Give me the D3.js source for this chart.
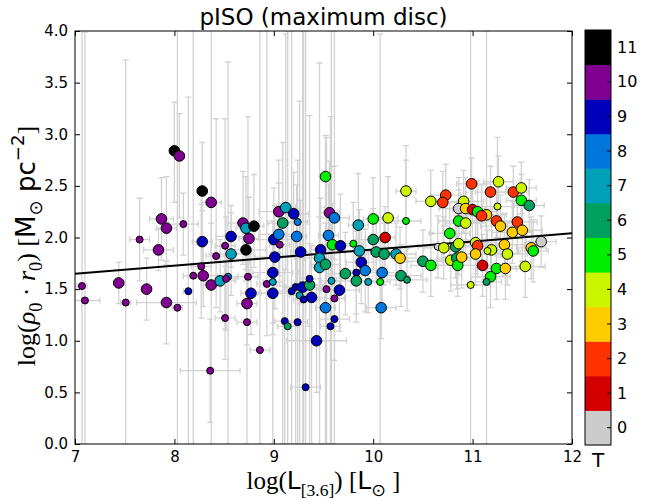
<!DOCTYPE html>
<html>
<head>
<meta charset="utf-8">
<script src="https://cdn.jsdelivr.net/npm/d3@7"></script>
<style>
  body { margin: 0; background: #fff; }
  text { fill: #000; }
</style>
</head>
<body>
<svg id="chart" width="660" height="500"></svg>
<script>
// galaxies: log luminosity, log(rho0*r0), Hubble type T, marker size flag, error bars
var logL = [
  8.00, 8.05, 8.28, 8.37, 7.87, 7.92, 8.09, 7.65, 8.28, 8.57,
  8.51, 7.84, 8.42, 8.57, 8.27, 8.19, 8.29, 8.37, 8.46, 8.54,
  8.52, 7.07, 7.44, 7.72, 7.10, 7.51, 7.92, 8.03, 8.14, 8.51,
  9.52, 9.05, 9.12, 9.20, 9.09, 9.24, 9.56, 9.61, 8.69, 8.72,
  8.80, 8.75, 8.72, 9.00, 9.05, 9.06, 9.23, 9.27, 9.01, 9.55,
  9.59, 9.67, 9.47, 9.46, 9.46, 9.52, 9.85, 10.00, 10.15, 10.00,
  10.12, 9.80, 9.86, 10.03, 10.11, 10.23, 9.88, 9.92, 9.72, 9.83,
  9.83, 9.95, 10.07, 10.09, 10.28, 8.99, 8.74, 8.93, 8.99, 8.99,
  8.77, 8.73, 9.18, 9.22, 9.29, 9.36, 9.36, 9.26, 9.30, 9.38,
  9.58, 9.53, 9.66, 9.61, 9.52, 10.08, 9.61, 8.73, 9.11, 9.14,
  9.24, 9.57, 8.86, 8.36, 9.32, 9.43, 10.33, 10.33, 10.58, 10.73,
  10.70, 10.99, 11.26, 11.18, 11.41, 11.49, 11.49, 11.57, 10.91, 10.86,
  10.93, 11.00, 11.05, 11.14, 11.09, 11.25, 10.86, 10.93, 11.24, 11.28,
  11.45, 11.40, 11.50, 10.77, 11.69, 10.65, 10.27, 10.71, 10.83, 10.86,
  11.03, 11.05, 11.03, 11.19, 11.15, 11.32, 11.35, 11.59, 11.61, 10.78,
  10.84, 10.85, 10.89, 11.10, 11.24, 11.33, 11.53, 10.50, 10.58, 10.34,
  11.18, 11.14, 10.98
];
var logRho = [
  2.84, 2.79, 2.45, 2.34, 2.18, 2.09, 2.13, 1.98, 1.96, 2.01,
  1.92, 1.88, 1.82, 1.84, 1.72, 1.63, 1.63, 1.54, 1.58, 1.62,
  1.60, 1.53, 1.56, 1.50, 1.39, 1.37, 1.37, 1.32, 1.48, 1.22,
  2.59, 2.25, 2.29, 2.23, 2.14, 2.15, 2.24, 2.19, 2.14, 2.09,
  2.11, 1.99, 1.88, 1.98, 2.03, 1.93, 2.01, 1.86, 1.81, 2.02,
  1.93, 1.92, 1.88, 1.80, 1.71, 1.74, 2.12, 2.18, 2.19, 1.98,
  2.00, 1.94, 1.87, 1.86, 1.84, 1.84, 1.76, 1.68, 1.65, 1.66,
  1.58, 1.57, 1.57, 1.66, 1.63, 1.66, 1.62, 1.55, 1.57, 1.46,
  1.46, 1.36, 1.48, 1.52, 1.52, 1.54, 1.60, 1.44, 1.40, 1.42,
  1.58, 1.50, 1.49, 1.41, 1.32, 1.32, 1.21, 1.18, 1.19, 1.14,
  1.18, 1.14, 0.91, 0.71, 0.55, 1.00, 2.45, 2.16, 2.35, 2.41,
  2.34, 2.52, 2.54, 2.44, 2.44, 2.48, 2.36, 2.31, 2.35, 2.28,
  2.28, 2.27, 2.25, 2.22, 2.21, 2.30, 2.16, 2.14, 2.16, 2.11,
  2.15, 2.05, 2.07, 2.04, 1.96, 1.91, 1.80, 1.90, 1.91, 1.94,
  1.95, 1.92, 1.84, 1.88, 1.87, 1.93, 1.84, 1.90, 1.87, 1.78,
  1.80, 1.73, 1.81, 1.73, 1.70, 1.70, 1.72, 1.77, 1.73, 1.59,
  1.62, 1.57, 1.54
];
var hubbleT = [
  11, 10, 11, 10, 10, 10, 10, 10, 9, 9,
  10, 10, 10, 7, 10, 10, 10, 10, 7, 8,
  10, 10, 10, 10, 10, 10, 10, 10, 9, 10,
  5, 10, 7, 9, 6, 8, 10, 8, 10, 7,
  11, 10, 11, 9, 8, 10, 8, 9, 9, 8,
  5, 9, 9, 7, 7, 6, 7, 5, 4, 6,
  1, 5, 7, 6, 6, 7, 9, 8, 6, 9,
  6, 7, 5, 8, 6, 9, 10, 10, 7, 9,
  9, 10, 9, 9, 9, 6, 9, 7, 9, 9,
  7, 10, 9, 10, 8, 8, 9, 10, 9, 6,
  9, 9, 10, 10, 9, 9, 4, 5, 4, 2,
  2, 2, 4, 2, 2, 4, 5, 6, 4, 0,
  3, 1, 5, 3, 2, 4, 5, 4, 2, 3,
  2, 3, 3, 5, 0, 0, 3, 4, 6, 4,
  4, 2, 3, 4, 4, 3, 4, 3, 5, 4,
  6, 5, 3, 1, 5, 3, 4, 6, 5, 6,
  5, 6, 4
];
var isBig = [
  1, 1, 1, 1, 1, 1, 0, 0, 1, 1,
  0, 1, 0, 1, 0, 0, 1, 1, 1, 0,
  0, 0, 1, 1, 0, 0, 1, 0, 0, 0,
  1, 1, 1, 1, 1, 0, 1, 1, 1, 1,
  1, 1, 1, 1, 1, 0, 1, 1, 1, 1,
  1, 1, 1, 1, 1, 1, 1, 1, 1, 1,
  1, 0, 1, 1, 1, 1, 1, 1, 1, 0,
  1, 0, 0, 1, 1, 1, 0, 0, 0, 1,
  1, 1, 0, 0, 1, 1, 0, 0, 0, 1,
  0, 0, 1, 0, 1, 1, 0, 0, 0, 0,
  0, 0, 0, 0, 0, 1, 1, 0, 1, 1,
  1, 1, 1, 1, 1, 1, 1, 1, 1, 1,
  1, 1, 1, 1, 1, 0, 1, 1, 1, 1,
  1, 1, 1, 1, 1, 0, 1, 1, 1, 1,
  1, 1, 1, 1, 0, 1, 1, 1, 1, 1,
  1, 1, 1, 1, 1, 1, 1, 1, 1, 0,
  1, 0, 0
];
var errL = [
  .05, .05, .05, .1, .12, .1, .15, .1, .1, .15,
  .1, .15, .1, .2, .1, .1, .2, .1, .15, .1,
  .1, .05, .05, .05, .15, .05, .3, .05, .05, .1,
  .05, .2, .1, .15, .15, .1, .1, .15, .15, .1,
  .1, .1, .2, .2, .2, .1, .1, .1, .2, .1,
  .1, .15, .1, .15, .1, .15, .1, .1, .1, .15,
  .1, .1, .15, .2, .2, .2, .15, .2, .2, .1,
  .2, .1, .1, .15, .2, .2, .1, .1, .1, .15,
  .1, .1, .15, .1, .2, .15, .1, .1, .1, .15,
  .1, .1, .2, .1, .1, .15, .15, .1, .1, .1,
  .1, .1, .1, .3, .15, .3, .1, .15, .15, .15,
  .15, .15, .15, .15, .15, .15, .15, .15, .2, .2,
  .2, .2, .2, .2, .2, .15, .2, .2, .2, .2,
  .2, .2, .2, .2, .15, .2, .2, .2, .2, .2,
  .2, .2, .2, .2, .1, .2, .2, .15, .15, .2,
  .2, .2, .2, .2, .2, .2, .2, .2, .2, .2,
  .2, .15, .2
];
var errRhoLo = [
  .5, .6, .45, .5, .4, .35, .3, .4, .3, .3,
  .8, .2, .5, .4, .5, 1.63, .3, 1.54, .3, 1.62,
  .5, 1.53, .2, .3, 1.39, 1.37, .4, 1.32, 1.48, .4,
  .3, .4, .6, .4, 2.14, .5, .4, .4, .4, .4,
  .4, .4, .3, .5, .4, .4, .5, .5, .5, .4,
  .4, .4, .4, .4, 1.71, .4, .4, .3, .3, .3,
  .3, .4, .3, .3, .3, .3, .4, .4, .4, .4,
  .4, .3, 1.57, .3, .3, 1.66, .3, .5, .4, .4,
  .4, .4, 1.48, 1.52, 1.52, .4, 1.60, 1.44, 1.40, 1.42,
  1.58, 1.50, .4, 1.41, 1.32, .3, .4, 1.18, 1.19, 1.14,
  1.18, 1.14, .91, .5, .55, .5, .3, .4, .3, .3,
  .3, .25, .25, .25, .25, .25, .25, .25, .3, .3,
  .3, .3, .3, .3, .3, .3, .3, .3, .3, .3,
  .3, .3, .3, .3, .25, .3, .3, .3, .3, .3,
  .3, .3, .3, .3, .2, .3, .3, .3, .3, .3,
  .3, .3, .3, .3, .3, .3, .3, .3, .3, .3,
  .3, 1.57, 1.54
];
var errRhoHi = [
  .47, .41, .47, 1.7, .4, .5, .3, .4, .3, .3,
  1.23, .2, 1.33, .4, .6, 2.4, .3, .6, .4, 2.08,
  .6, 2.5, .2, .3, 2.6, 2.35, .4, 2.7, 1.88, .5,
  .4, .5, 1.68, .4, .78, .6, .5, .5, .5, .5,
  .5, .4, .3, .5, .5, .4, .5, .5, .5, .5,
  .4, .5, .5, .4, 1.98, .4, .5, .4, .4, .3,
  .3, .4, .4, .3, .3, .3, .4, .4, .4, .4,
  .4, .3, 2.4, .3, .3, .5, 1.55, 2.45, .4, .4,
  .4, .4, 2.52, .5, 2.48, .4, 1.58, 1.88, 2.6, .5,
  2.42, 1.47, .4, 2.59, .4, .3, .4, .4, .5, 2.86,
  .5, 2.03, 3.09, .5, 3.45, .5, .3, .73, .3, .3,
  .3, .25, .25, .25, .25, .25, .25, .25, .3, .3,
  .3, .3, .3, .3, .3, .67, .3, .3, .3, .3,
  .3, .3, .3, .3, .25, .3, .3, .3, .3, .3,
  .3, .3, .3, .3, .2, .3, .3, .3, .3, .3,
  .3, .3, .3, .3, .3, .3, .3, .3, .3, .3,
  .3, 2.43, 2.46
];

// linear fit drawn across the panel
var fitL = [7, 12];
var fitRho = [1.65, 2.04];

var xTicks = [7, 8, 9, 10, 11, 12];
var yTicks = [0, 0.5, 1, 1.5, 2, 2.5, 3, 3.5, 4];
var tValues = [0, 1, 2, 3, 4, 5, 6, 7, 8, 9, 10, 11];
var tColors = ["#cccccc", "#d40000", "#ff3300", "#ffcc00", "#ccf500", "#00ee00",
               "#00a05e", "#00a0b8", "#0077dd", "#0000bb", "#800090", "#000000"];

var svg = d3.select("#chart");
var pL = 75, pR = 572, pT = 31, pB = 444;

var x = d3.scaleLinear().domain([7, 12]).range([pL, pR]);
var y = d3.scaleLinear().domain([0, 4]).range([pB, pT]);
var tColor = d3.scaleOrdinal().domain(tValues).range(tColors);

svg.append("defs").append("clipPath").attr("id", "plotclip")
  .append("rect").attr("x", pL).attr("y", pT)
  .attr("width", pR - pL).attr("height", pB - pT);

var plot = svg.append("g").attr("clip-path", "url(#plotclip)");

var rows = logL.map(function(l, i) {
  return { l: l, r: logRho[i], t: hubbleT[i], big: isBig[i],
           ex: errL[i], lo: errRhoLo[i], hi: errRhoHi[i] };
});

// error bars
var bars = plot.append("g").attr("stroke", "#d2d2d2").attr("stroke-width", 1.3).attr("fill", "none");
var cap = 3;
rows.forEach(function(d) {
  var cx = x(d.l), cyy = y(d.r);
  var y0 = y(d.r - d.lo), y1 = y(d.r + d.hi);
  var x0 = x(d.l - d.ex), x1 = x(d.l + d.ex);
  bars.append("path").attr("d",
    "M" + cx + "," + y0 + "V" + y1 +
    "M" + (cx - cap) + "," + y0 + "H" + (cx + cap) +
    "M" + (cx - cap) + "," + y1 + "H" + (cx + cap) +
    "M" + x0 + "," + cyy + "H" + x1 +
    "M" + x0 + "," + (cyy - cap) + "V" + (cyy + cap) +
    "M" + x1 + "," + (cyy - cap) + "V" + (cyy + cap));
});

// fit line
plot.append("line")
  .attr("x1", x(fitL[0])).attr("y1", y(fitRho[0]))
  .attr("x2", x(fitL[1])).attr("y2", y(fitRho[1]))
  .attr("stroke", "#000").attr("stroke-width", 2);

// points
plot.append("g").selectAll("circle").data(rows).enter().append("circle")
  .attr("cx", function(d) { return x(d.l); })
  .attr("cy", function(d) { return y(d.r); })
  .attr("r", function(d) { return d.big ? 5.3 : 3.5; })
  .attr("fill", function(d) { return tColor(d.t); })
  .attr("stroke", "#000").attr("stroke-width", 1);

// axes, ticks pointing inward like matplotlib classic
var tickFont = "DejaVu Sans";
function styleAxis(g) {
  g.select(".domain").remove();
  g.selectAll(".tick line").attr("stroke", "#000");
  g.selectAll(".tick text").attr("font-family", tickFont).attr("font-size", 15).attr("fill", "#000");
}
svg.append("g").attr("transform", "translate(0," + pB + ")")
  .call(d3.axisBottom(x).tickValues(xTicks).tickFormat(d3.format("d")).tickSize(-5).tickPadding(7))
  .call(styleAxis);
svg.append("g").attr("transform", "translate(0," + pT + ")")
  .call(d3.axisTop(x).tickValues(xTicks).tickFormat("").tickSize(-5))
  .call(styleAxis);
svg.append("g").attr("transform", "translate(" + pL + ",0)")
  .call(d3.axisLeft(y).tickValues(yTicks).tickFormat(d3.format(".1f")).tickSize(-5).tickPadding(7))
  .call(styleAxis);
svg.append("g").attr("transform", "translate(" + pR + ",0)")
  .call(d3.axisRight(y).tickValues(yTicks).tickFormat("").tickSize(-5))
  .call(styleAxis);

svg.append("rect").attr("x", pL).attr("y", pT)
  .attr("width", pR - pL).attr("height", pB - pT)
  .attr("fill", "none").attr("stroke", "#000").attr("stroke-width", 1);

// title
svg.append("text").attr("x", (pL + pR) / 2).attr("y", 25)
  .attr("text-anchor", "middle").attr("font-family", "DejaVu Sans").attr("font-size", 23)
  .text("pISO (maximum disc)");

// mixed-font axis labels
var serif = "Liberation Serif", sans = "DejaVu Sans";
function mathText(sel, parts, size) {
  var shift = 0;
  parts.forEach(function(p) {
    var target = p.pos === "sub" ? size * 0.28 : p.pos === "sup" ? -size * 0.42 : 0;
    var ts = sel.append("tspan").text(p.s)
      .attr("font-family", p.f)
      .attr("font-size", p.pos ? size * 0.7 : size)
      .attr("dy", target - shift);
    if (p.it) ts.attr("font-style", "italic");
    shift = target;
  });
}

var xl = svg.append("text").attr("x", (pL + pR) / 2).attr("y", 489).attr("text-anchor", "middle");
mathText(xl, [
  { s: "log(", f: serif }, { s: "L", f: sans }, { s: "[3.6]", f: serif, pos: "sub" },
  { s: ") [", f: serif }, { s: "L", f: sans }, { s: "\u2299", f: sans, pos: "sub" }, { s: " ]", f: serif }
], 25);

var yl = svg.append("text").attr("transform", "translate(35,246) rotate(-90)").attr("text-anchor", "middle");
mathText(yl, [
  { s: "log(", f: serif }, { s: "\u03c1", f: serif, it: true }, { s: "0", f: serif, pos: "sub" },
  { s: " \u00b7 ", f: serif }, { s: "r", f: serif, it: true }, { s: "0", f: serif, pos: "sub" },
  { s: ") [", f: serif }, { s: "M", f: sans }, { s: "\u2299", f: sans, pos: "sub" },
  { s: " pc", f: sans }, { s: "\u22122", f: sans, pos: "sup" }, { s: "]", f: serif }
], 26);

// colour bar for Hubble type
var cbX = 585, cbW = 26;
var cbY = d3.scaleBand().domain(tValues.slice().reverse()).range([pT - 1, pB + 1]);
var cb = svg.append("g");
cb.selectAll("rect").data(tValues).enter().append("rect")
  .attr("x", cbX).attr("y", function(t) { return cbY(t); })
  .attr("width", cbW).attr("height", cbY.bandwidth() + 0.5)
  .attr("fill", function(t) { return tColor(t); });
cb.append("rect").attr("x", cbX).attr("y", pT - 1).attr("width", cbW).attr("height", pB - pT + 2)
  .attr("fill", "none").attr("stroke", "#000").attr("stroke-width", 1);
cb.selectAll("line.tk").data(tValues).enter().append("line")
  .attr("x1", cbX + cbW - 4).attr("x2", cbX + cbW)
  .attr("y1", function(t) { return cbY(t) + cbY.bandwidth() / 2; })
  .attr("y2", function(t) { return cbY(t) + cbY.bandwidth() / 2; })
  .attr("stroke", "#000");
cb.selectAll("text").data(tValues).enter().append("text")
  .attr("x", cbX + cbW + 6)
  .attr("y", function(t) { return cbY(t) + cbY.bandwidth() / 2; })
  .attr("dy", "0.35em").attr("font-family", tickFont).attr("font-size", 16)
  .text(function(t) { return t; });
svg.append("text").attr("x", cbX + cbW / 2).attr("y", 467).attr("text-anchor", "middle")
  .attr("font-family", tickFont).attr("font-size", 20).text("T");
</script>
</body>
</html>
